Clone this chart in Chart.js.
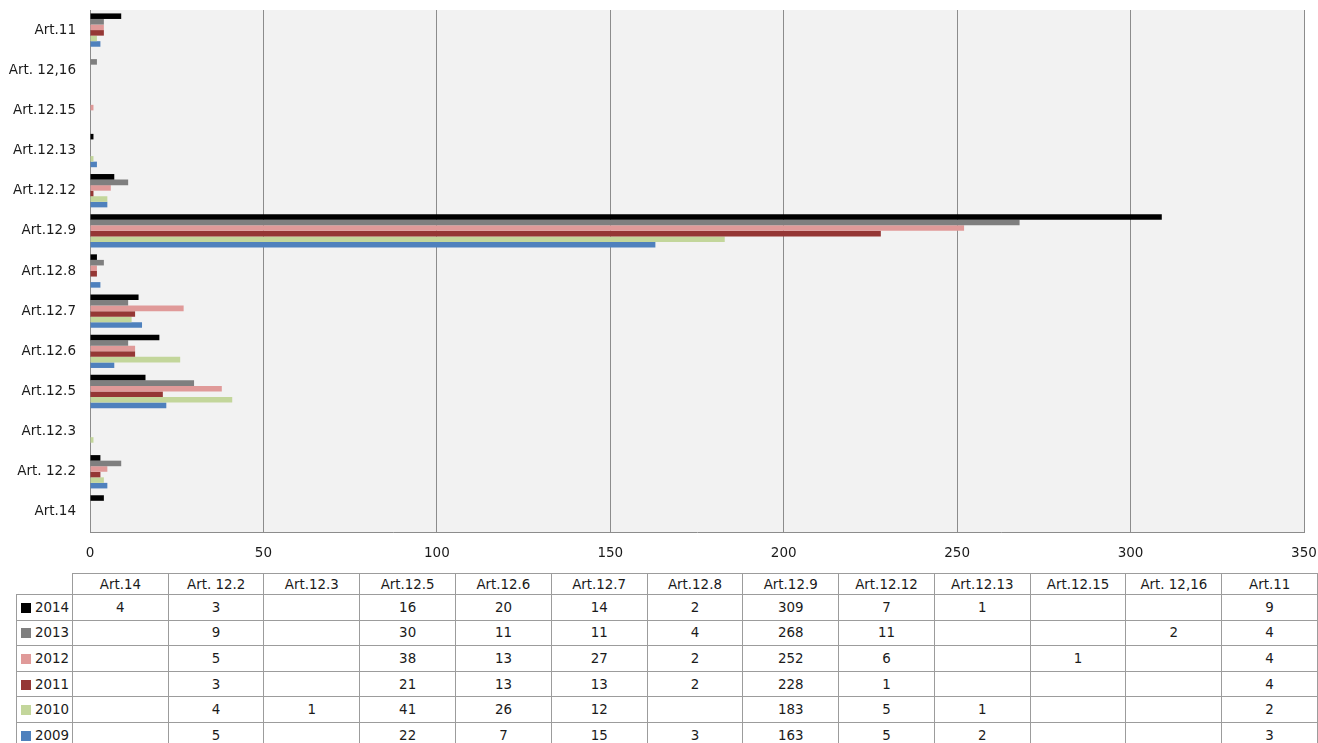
<!DOCTYPE html>
<html>
<head>
<meta charset="utf-8">
<title>Art. counts 2009–2014</title>
<script src="https://cdn.jsdelivr.net/npm/chart.js@4.4.1/dist/chart.umd.min.js"></script>
<style>
  html, body { margin: 0; padding: 0; background: #fff; }
  body { width: 1318px; height: 743px; position: relative; overflow: hidden; font-family: 'DejaVu Sans', sans-serif; color: #1a1a1a; }
  #chart-wrap { position: absolute; left: 0; top: 0; width: 1318px; height: 565px; }
  #data-table { position: absolute; left: 16px; top: 573px; border-collapse: collapse; table-layout: fixed; font-size: 13.4px; }
  #data-table td, #data-table th { border: 1px solid #9c9c9c; padding: 0; text-align: center; font-weight: normal; white-space: nowrap; overflow: hidden; }
  #data-table th { height: 20px; }
  #data-table td { height: 24.6px; }
  #data-table th.blank { border: none; }
  #data-table td.key { text-align: left; padding-left: 4px; }
  .swatch { display: inline-block; width: 10px; height: 10px; margin-right: 4px; vertical-align: -1px; }
</style>
</head>
<body>
<div id="chart-wrap"><canvas id="bars"></canvas></div>
<table id="data-table"></table>
<script>
(() => {
  'use strict';

  // ── Data ──────────────────────────────────────────────────
  const categories = ['Art.14', 'Art. 12.2', 'Art.12.3', 'Art.12.5', 'Art.12.6', 'Art.12.7', 'Art.12.8',
    'Art.12.9', 'Art.12.12', 'Art.12.13', 'Art.12.15', 'Art. 12,16', 'Art.11'];
  const years = ['2014', '2013', '2012', '2011', '2010', '2009'];

  const v2014 = [4, 3, null, 16, 20, 14, 2, 309, 7, 1, null, null, 9];
  const v2013 = [null, 9, null, 30, 11, 11, 4, 268, 11, null, null, 2, 4];
  const v2012 = [null, 5, null, 38, 13, 27, 2, 252, 6, null, 1, null, 4];
  const v2011 = [null, 3, null, 21, 13, 13, 2, 228, 1, null, null, null, 4];
  const v2010 = [null, 4, 1, 41, 26, 12, null, 183, 5, 1, null, null, 2];
  const v2009 = [null, 5, null, 22, 7, 15, 3, 163, 5, 2, null, null, 3];

  const xMin = 0;
  const xMax = 350;
  const xStep = 50;

  const series = [v2014, v2013, v2012, v2011, v2010, v2009];
  const colors = ['#000000', '#7f7f7f', '#e09a99', '#953735', '#c3d69b', '#4f81bd'];

  const FONT = 'DejaVu Sans';
  const TEXT = '#1a1a1a';
  const GRID = '#8c8c8c';

  // ── Plot background ───────────────────────────────────────
  const plotBg = {
    id: 'plotBg',
    beforeDraw(chart) {
      const { ctx, chartArea: a } = chart;
      ctx.save();
      ctx.fillStyle = '#f2f2f2';
      ctx.fillRect(a.left, a.top, a.right - a.left, a.bottom - a.top);
      ctx.restore();
    },
  };

  // ── Chart ─────────────────────────────────────────────────
  new Chart(document.getElementById('bars'), {
    type: 'bar',
    data: {
      labels: categories,
      datasets: years.map((y, i) => ({
        label: y,
        data: series[i],
        backgroundColor: colors[i],
        borderWidth: 0,
        categoryPercentage: 0.83,
        barPercentage: 1.0,
      })),
    },
    options: {
      indexAxis: 'y',
      responsive: true,
      maintainAspectRatio: false,
      animation: false,
      layout: { padding: { top: 10, right: 14, left: 0, bottom: 0 } },
      plugins: {
        legend: { display: false },
        tooltip: { enabled: false },
      },
      scales: {
        x: {
          min: xMin,
          max: xMax,
          ticks: { stepSize: xStep, color: TEXT, font: { family: FONT, size: 13.5 }, padding: 13 },
          grid: { color: GRID, lineWidth: 1, drawTicks: false },
          border: { display: true, color: GRID, width: 1 },
          afterFit(scale) {
            scale.height = 33;
            scale.paddingLeft = 0;
            scale.paddingRight = 0;
          },
        },
        y: {
          reverse: true,
          ticks: { color: TEXT, font: { family: FONT, size: 13.5 }, padding: 14 },
          grid: { display: false, drawTicks: false },
          border: { display: true, color: GRID, width: 1 },
          afterFit(scale) {
            scale.width = 90;
            scale.paddingTop = 0;
            scale.paddingBottom = 0;
          },
        },
      },
    },
    plugins: [plotBg],
  });

  // ── Data table ────────────────────────────────────────────
  const table = document.getElementById('data-table');
  const colW = (1318 - 72) / categories.length;
  let html = '<colgroup><col style="width:56px">' +
    categories.map(() => `<col style="width:${colW}px">`).join('') + '</colgroup>';
  html += '<tr><th class="blank"></th>' + categories.map(c => `<th>${c}</th>`).join('') + '</tr>';
  years.forEach((y, i) => {
    html += `<tr><td class="key"><span class="swatch" style="background:${colors[i]}"></span>${y}</td>` +
      series[i].map(v => `<td>${v == null ? '' : v}</td>`).join('') + '</tr>';
  });
  table.innerHTML = html;
})();
</script>
</body>
</html>
